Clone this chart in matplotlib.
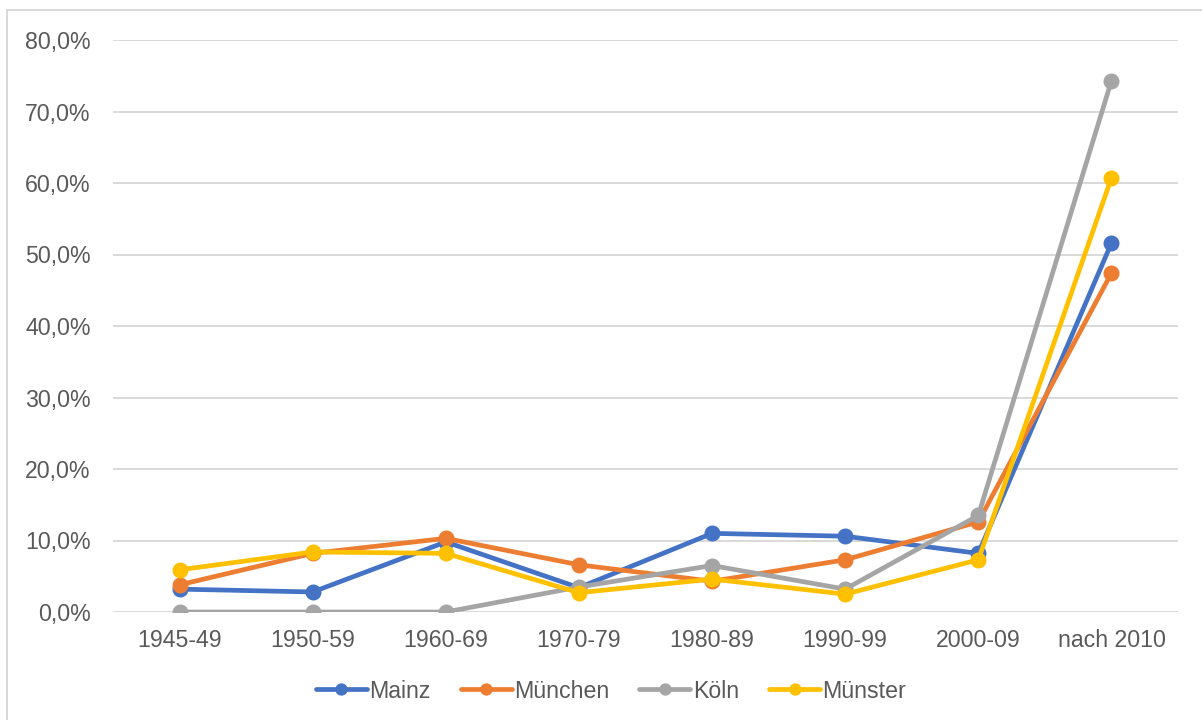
import matplotlib
matplotlib.use("Agg")
import matplotlib.pyplot as plt
from matplotlib.patches import Rectangle
from matplotlib.ticker import FuncFormatter

plt.rcParams['font.family'] = ['Liberation Sans', 'DejaVu Sans']

categories = ["1945-49", "1950-59", "1960-69", "1970-79", "1980-89", "1990-99", "2000-09", "nach 2010"]
mainz = [3.2, 2.8, 9.8, 3.4, 11.0, 10.6, 8.2, 51.6]
muenchen = [3.8, 8.2, 10.3, 6.6, 4.3, 7.3, 12.6, 47.4]
koeln = [0.0, 0.0, 0.0, 3.5, 6.5, 3.2, 13.5, 74.3]
muenster = [5.9, 8.4, 8.2, 2.7, 4.6, 2.5, 7.3, 60.7]

series = [
    ("Mainz", mainz, "#4472C4"),
    ("München", muenchen, "#ED7D31"),
    ("Köln", koeln, "#A5A5A5"),
    ("Münster", muenster, "#FFC000"),
]

text_color = "#595959"
grid_color = "#D9D9D9"
font_size = 16.7

fig = plt.figure(figsize=(12.02, 7.2), dpi=100)
W, H = 1202, 720
ax = fig.add_axes([113 / W, 1 - 612 / H, (1178 - 113) / W, (612 - 40) / H])

x = list(range(len(categories)))
handles = []
for name, vals, col in series:
    h, = ax.plot(x, vals, color=col, linewidth=3.4, marker="o", markersize=10.5,
                 solid_capstyle="round", solid_joinstyle="round", label=name, zorder=3)
    handles.append(h)

ax.set_xlim(-0.5, len(categories) - 0.5)
ax.set_ylim(0, 80)
ax.set_yticks(range(0, 81, 10))
ax.yaxis.set_major_formatter(FuncFormatter(lambda v, p: f"{v:.1f}%".replace(".", ",")))
ax.set_xticks(x)
ax.set_xticklabels(categories)

ax.grid(axis="y", color=grid_color, linewidth=1.4, zorder=0)
ax.set_axisbelow(True)
for s in ax.spines.values():
    s.set_visible(False)
ax.tick_params(axis="both", length=0, labelsize=font_size, colors=text_color)
ax.tick_params(axis="y", pad=16)
ax.tick_params(axis="x", pad=12)

leg = fig.legend(handles=handles, loc="center", bbox_to_anchor=(611 / W, 1 - 691 / H),
                 ncol=4, frameon=False, fontsize=font_size, handlelength=2.2, handletextpad=0.1,
                 columnspacing=1.3, markerscale=0.75)
for t in leg.get_texts():
    t.set_color(text_color)

# chart area border
fig.patches.append(Rectangle((7 / W, -0.1), 1.2, 1 - 10 / H + 0.1, transform=fig.transFigure,
                             fill=False, edgecolor=grid_color, linewidth=1.4))

fig.savefig("out.png", dpi=100, facecolor="white")
